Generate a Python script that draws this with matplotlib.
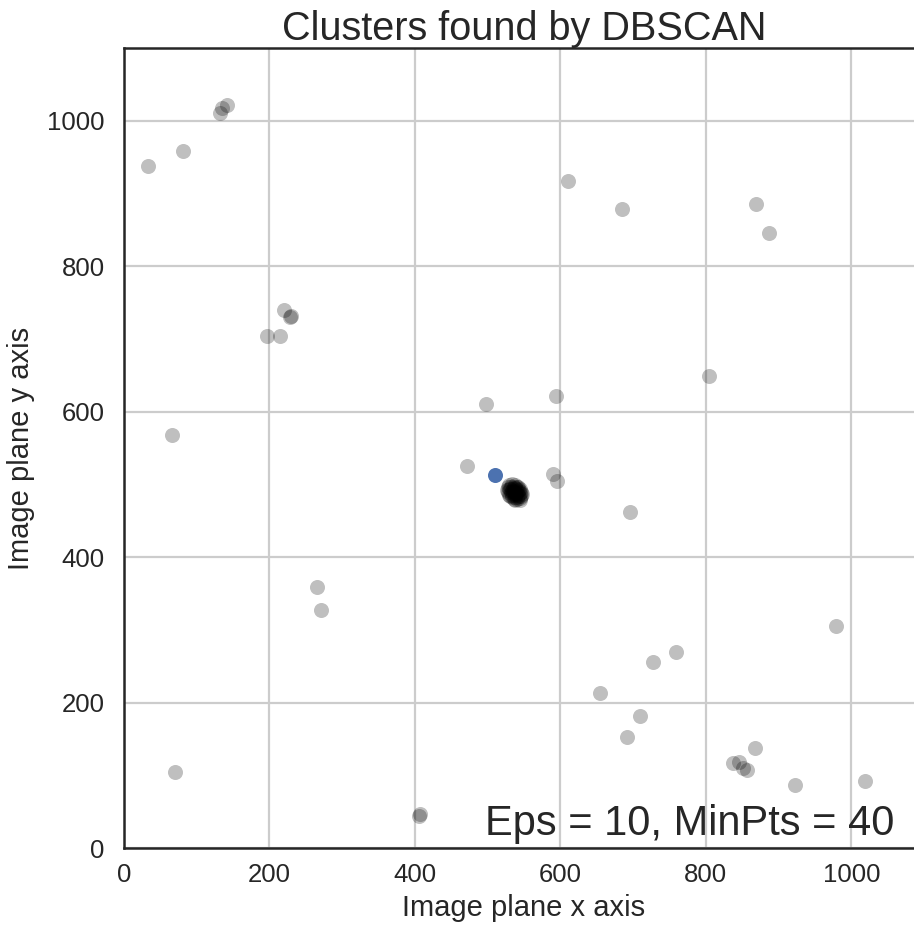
import matplotlib
matplotlib.use('Agg')
import matplotlib.pyplot as plt

# points labelled as noise by DBSCAN
noise_x = [33, 81, 132, 135, 142, 197, 215, 220, 228, 229, 66, 70, 265, 271, 405, 407,
           498, 472, 590, 595, 594, 611, 685, 696, 805, 869, 887, 979, 759, 728, 655,
           710, 692, 868, 838, 845, 851, 857, 922, 1019]
noise_y = [938, 959, 1011, 1018, 1021, 704, 704, 740, 730, 731, 568, 105, 359, 327, 44, 47,
           611, 525, 514, 505, 621, 917, 879, 462, 649, 886, 846, 305, 270, 256, 213,
           182, 153, 138, 117, 118, 110, 107, 87, 92]

# dense group in the middle
blob_x = [530, 534, 538, 542, 528, 532, 536, 540, 544, 527, 531, 535, 539, 543, 546, 528,
          532, 536, 540, 544, 530, 534, 538, 542, 546, 533, 537, 541, 545, 536, 540, 544,
          529, 538, 533, 542, 535, 539, 531, 543, 547, 537]
blob_y = [499, 500, 499, 497, 496, 497, 497, 496, 494, 492, 493, 493, 493, 492, 490, 489,
          489, 490, 489, 488, 486, 486, 486, 485, 484, 483, 483, 482, 481, 480, 480, 479,
          494, 495, 491, 491, 488, 487, 484, 484, 487, 478]

cluster_x = [510]
cluster_y = [513]

plt.rcParams['font.family'] = ['Arial', 'Liberation Sans', 'DejaVu Sans']

fig = plt.figure(figsize=(9.14, 9.27), dpi=100)
ax = fig.add_axes([124 / 914, 79 / 927, 800 / 914, 800 / 927])

ax.scatter(noise_x, noise_y, s=117, c='black', alpha=0.25, linewidths=0, zorder=3)
ax.scatter(blob_x, blob_y, s=117, c='black', alpha=0.25, linewidths=0, zorder=3)
ax.scatter(cluster_x, cluster_y, s=117, c='#4c72b0', linewidths=0, zorder=4)

ax.set_xlim(0, 1100)
ax.set_ylim(0, 1100)
ax.set_xticks([0, 200, 400, 600, 800, 1000])
ax.set_yticks([0, 200, 400, 600, 800, 1000])
ax.grid(True, color='#cccccc', linewidth=1.6, zorder=0)
ax.set_axisbelow(True)

for side in ['left', 'bottom', 'top']:
    ax.spines[side].set_color('#262626')
    ax.spines[side].set_linewidth(1.8)
ax.spines['right'].set_visible(False)

ax.tick_params(length=0, labelsize=18.5, colors='#262626')
ax.tick_params(axis='y', pad=14)
ax.tick_params(axis='x', pad=11)
ax.set_xlabel('Image plane x axis', fontsize=21, color='#262626', labelpad=5)
ax.set_ylabel('Image plane y axis', fontsize=21, color='#262626', labelpad=9)
ax.set_title('Clusters found by DBSCAN', fontsize=28.5, color='#262626')

ax.text(0.963, 0.016, 'Eps = 10, MinPts = 40', transform=ax.transAxes,
        ha='right', va='baseline', fontsize=30, color='#262626')

fig.savefig('out.png', dpi=100)
